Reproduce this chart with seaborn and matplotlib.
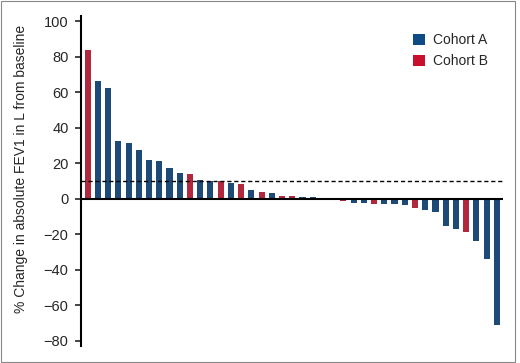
import numpy as np
import pandas as pd
import matplotlib
matplotlib.use('Agg')
import matplotlib.pyplot as plt
import seaborn as sns
from matplotlib.patches import Patch, Rectangle

# ==========================================
# Data: % change in FEV1 per patient (waterfall order)
# ==========================================
pct_change = [83.7, 66.2, 62.5, 32.6, 31.6, 27.5, 21.8, 21.3, 17.3, 14.5,
              14.0, 10.7, 9.8, 9.7, 8.7, 8.1, 4.9, 3.6, 3.0, 1.5,
              1.3, 0.9, 0.7, 0.0, 0.0, -1.5, -2.3, -2.3, -2.9, -2.9,
              -2.9, -3.6, -5.0, -6.1, -7.4, -15.5, -17.0, -18.5, -24.1, -34.2,
              -71.0]
cohort = ['B', 'A', 'A', 'A', 'A', 'A', 'A', 'A', 'A', 'A',
          'B', 'A', 'A', 'B', 'A', 'B', 'A', 'B', 'A', 'B',
          'B', 'A', 'A', 'A', 'A', 'B', 'A', 'A', 'B', 'A',
          'A', 'A', 'B', 'A', 'A', 'A', 'A', 'B', 'A', 'A',
          'A']
cohort_labels = {'A': 'Cohort A', 'B': 'Cohort B'}
threshold = 10
y_ticks = [-80, -60, -40, -20, 0, 20, 40, 60, 80, 100]

palette = {'A': '#0e4a86', 'B': '#c8102e'}

df = pd.DataFrame({
    'patient': [str(i) for i in range(len(pct_change))],
    'pct': pct_change,
    'cohort': cohort,
})

sns.set_style('white')
plt.rcParams['font.family'] = ['Liberation Sans', 'DejaVu Sans']

fig = plt.figure(figsize=(5.2, 3.63), dpi=100)
ax = fig.add_axes([0.1558, 0.047, 0.8115, 0.909])

sns.barplot(data=df, x='patient', y='pct', hue='cohort', palette=palette,
            dodge=False, width=0.6, legend=False, ax=ax, linewidth=0,
            order=df['patient'])

ax.axhline(0, color='black', linewidth=1.5, zorder=3)
ax.axhline(threshold, color='black', linewidth=1, linestyle=(0, (3, 2)), zorder=3)

ax.set_xlim(-0.65, 40.6)
ax.set_ylim(-83, 103)
ax.set_yticks(y_ticks)
ax.set_yticklabels([str(t).replace('-', '\u2212') for t in y_ticks], fontsize=10.5)
ax.set_xticks([])
ax.set_xlabel('')
ax.set_ylabel('% Change in absolute FEV1 in L from baseline', fontsize=10)
ax.yaxis.set_label_coords(-0.125, 0.535)
ax.tick_params(axis='y', direction='out', length=4, width=1.2, left=True, pad=5)

for side in ['top', 'right', 'bottom']:
    ax.spines[side].set_visible(False)
ax.spines['left'].set_linewidth(1.5)
ax.spines['left'].set_color('black')

handles = [Patch(facecolor=palette[k], edgecolor='none', label=cohort_labels[k]) for k in ['A', 'B']]
ax.legend(handles=handles, loc='upper right', bbox_to_anchor=(0.995, 0.985), frameon=False,
          fontsize=10, handlelength=0.9, handleheight=0.9, handletextpad=0.6, labelspacing=0.5)

# thin frame around the whole figure
fig.patches.append(Rectangle((0.001, 0.003), 0.989, 0.994, transform=fig.transFigure,
                             fill=False, edgecolor='#888888', linewidth=0.8))

fig.savefig('out.png', dpi=100)
